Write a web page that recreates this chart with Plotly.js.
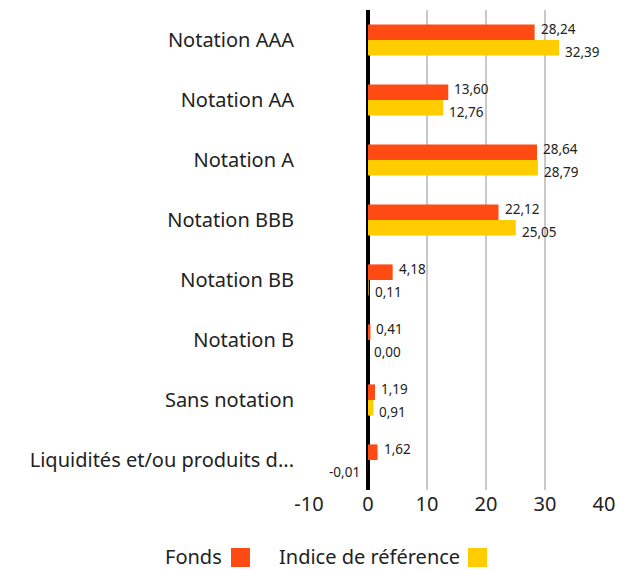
<!DOCTYPE html>
<html>
<head>
<meta charset="utf-8">
<script src="https://cdn.plot.ly/plotly-3.0.1.min.js"></script>
<style>html,body{margin:0;padding:0;background:#fff}#chart{width:634px;height:570px}</style>
</head>
<body>
<div id="chart"></div>
<script>
var categories = ["Notation AAA","Notation AA","Notation A","Notation BBB","Notation BB","Notation B","Sans notation","Liquidités et/ou produits d..."];
var fonds = [28.24, 13.60, 28.64, 22.12, 4.18, 0.41, 1.19, 1.62];
var indice = [32.39, 12.76, 28.79, 25.05, 0.11, 0.00, 0.91, -0.01];
var seriesNames = ["Fonds", "Indice de référence"];
var tickVals = [-10, 0, 10, 20, 30, 40];
var tickText = ["-10", "0", "10", "20", "30", "40"];

var colors = ["#FF4A14", "#FFCC00"];
function fmt(v){ return v.toFixed(2).replace('.', ','); }
var font = "Noto Sans, sans-serif";

function mk(vals, name, color){
  return {
    type: 'bar', orientation: 'h', y: categories, x: vals, name: name,
    marker: {color: color}, hoverinfo: 'x+y', showlegend: false
  };
}
var data = [mk(fonds, seriesNames[0], colors[0]), mk(indice, seriesNames[1], colors[1])];

var plotW = 634 - 309 - 30, plotH = 570 - 10 - 80;
function px(x){ return (x - 309) / plotW; }
function py(y){ return (570 - 80 - y) / plotH; }

var annotations = [
  {xref: 'paper', yref: 'paper', x: px(224), y: py(556), xanchor: 'right', yanchor: 'middle', text: seriesNames[0], showarrow: false, font: {size: 20, color: '#222'}},
  {xref: 'paper', yref: 'paper', x: px(462), y: py(556), xanchor: 'right', yanchor: 'middle', text: seriesNames[1], showarrow: false, font: {size: 20, color: '#222'}}
];
function labels(vals, yshift){
  vals.forEach(function(v, i){
    annotations.push({
      xref: 'x', yref: 'y', x: v, y: categories[i], text: fmt(v), showarrow: false,
      xanchor: v < 0 ? 'right' : 'left', xshift: v < 0 ? -6 : 4, yshift: yshift,
      yanchor: 'middle', font: {size: 13.5, color: '#222'}
    });
  });
}
labels(fonds, 11);
labels(indice, -12);

var layout = {
  width: 634, height: 570,
  margin: {l: 309, r: 30, t: 10, b: 80},
  barmode: 'group', bargap: 0.48, bargroupgap: 0,
  paper_bgcolor: '#fff', plot_bgcolor: '#fff',
  font: {family: font, color: '#222'},
  xaxis: {
    range: [-10, 40], tickvals: tickVals, ticktext: tickText,
    tickfont: {size: 20, color: '#222'}, showgrid: true, gridcolor: '#c8c8c8', gridwidth: 2,
    zeroline: true, zerolinecolor: '#000', zerolinewidth: 4, fixedrange: true, ticks: ''
  },
  yaxis: {
    autorange: 'reversed', tickfont: {size: 20, color: '#222'}, ticks: '', ticklabelstandoff: 8,
    showline: true, linecolor: '#fff', linewidth: 3, showgrid: false
  },
  shapes: [
    {type: 'rect', xref: 'paper', yref: 'paper', x0: px(231), x1: px(250), y0: py(567), y1: py(548), fillcolor: colors[0], line: {width: 0}},
    {type: 'rect', xref: 'paper', yref: 'paper', x0: px(468), x1: px(487), y0: py(567), y1: py(548), fillcolor: colors[1], line: {width: 0}}
  ],
  annotations: annotations
};
Plotly.newPlot('chart', data, layout, {displayModeBar: false, staticPlot: true});
</script>
</body>
</html>
